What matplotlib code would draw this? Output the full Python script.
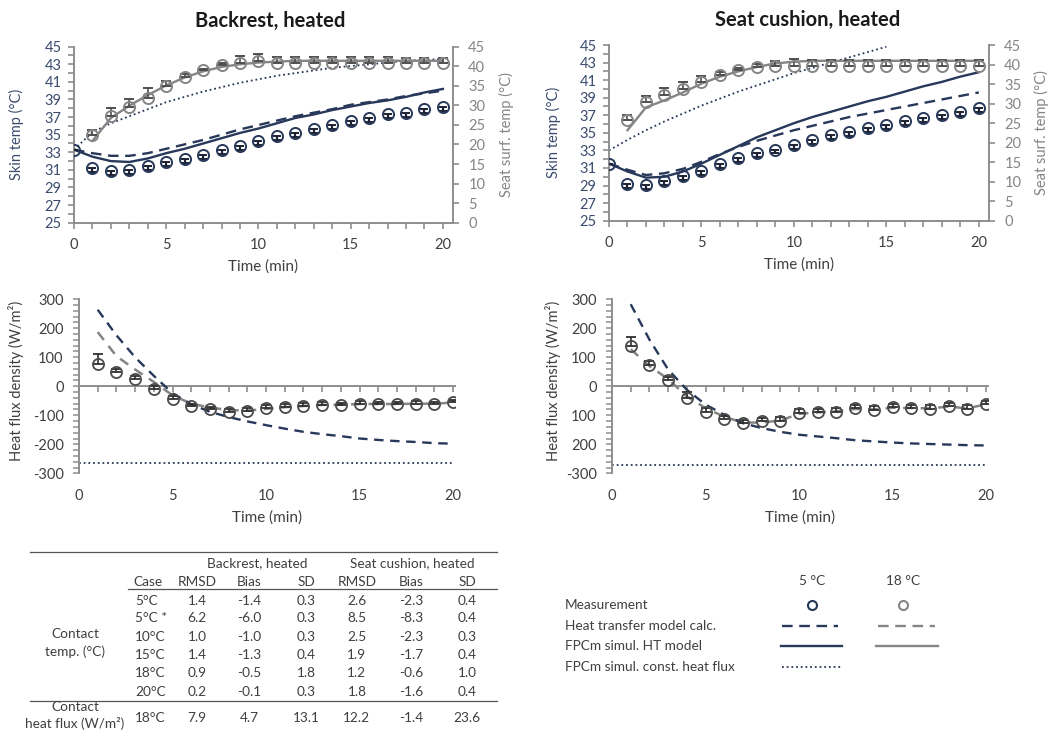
import numpy as np
import matplotlib
matplotlib.use("Agg")
import matplotlib.pyplot as plt
from matplotlib.ticker import MultipleLocator

plt.rcParams['font.family'] = ['Lato', 'DejaVu Sans']

W, H = 1051, 733
NAVY = '#27385a'
NAVY_TXT = '#3b4c6e'
GRAY = '#858585'
DARK = '#4a4a4a'
AXC = '#8e8e8e'
TXT = '#3f3f3f'

minutes = np.arange(21)

# backrest, contact temperatures (°C)
br_meas_5 = [33.3, 31.2, 30.9, 31.0, 31.4, 31.9, 32.2, 32.7, 33.3, 33.75, 34.3,
             34.8, 35.2, 35.6, 36.1, 36.5, 36.9, 37.3, 37.5, 37.9, 38.1]
br_err_5 = [0.0] + [0.45] * 20
br_meas_18 = [35.0, 37.1, 38.1, 39.2, 40.5, 41.6, 42.3, 42.9, 43.2, 43.4,
              43.2, 43.2, 43.2, 43.2, 43.2, 43.2, 43.2, 43.2, 43.2, 43.2]
br_err_18 = [0.5, 0.9, 0.9, 1.1, 0.6, 0.3, 0.2, 0.3, 0.7, 0.8,
             0.6, 0.6, 0.6, 0.6, 0.6, 0.6, 0.6, 0.5, 0.5, 0.5]
br_ht_5 = [33.3, 32.9, 32.6, 32.6, 32.9, 33.4, 33.9, 34.4, 35.0, 35.6, 36.1,
           36.6, 37.1, 37.5, 37.9, 38.4, 38.7, 39.0, 39.4, 39.7, 40.0]
br_fpc_5 = [33.3, 32.5, 32.0, 31.9, 32.3, 32.9, 33.4, 34.0, 34.6, 35.2, 35.7,
            36.3, 36.9, 37.3, 37.8, 38.2, 38.6, 38.9, 39.3, 39.8, 40.2]
br_fpc_18 = [34.3, 36.9, 38.3, 39.5, 40.6, 41.5, 42.2, 42.7, 43.0, 43.2,
             43.3, 43.4, 43.4, 43.4, 43.4, 43.4, 43.4, 43.4, 43.4, 43.4]
br_const = [33.3, 35.3, 36.3, 37.1, 37.9, 38.7, 39.3, 39.9, 40.4, 40.9, 41.3,
            41.7, 42.0, 42.3, 42.6, 42.8, 43.0, 43.2, 43.4, 43.5, 43.6]

# seat cushion, contact temperatures (°C)
sc_meas_5 = [31.5, 29.2, 29.1, 29.5, 30.1, 30.7, 31.4, 32.1, 32.7, 33.1, 33.6,
             34.2, 34.75, 35.1, 35.6, 35.9, 36.4, 36.7, 37.0, 37.4, 37.8]
sc_err_5 = [0.0] + [0.45] * 20
sc_meas_18 = [36.5, 38.5, 39.3, 39.95, 40.8, 41.6, 42.15, 42.5, 42.6, 42.65,
              42.65, 42.65, 42.65, 42.65, 42.65, 42.65, 42.65, 42.65, 42.65, 42.65]
sc_err_18 = [0.5, 0.7, 0.8, 0.85, 0.7, 0.3, 0.2, 0.3, 0.6, 0.75,
             0.65, 0.65, 0.65, 0.65, 0.65, 0.65, 0.65, 0.65, 0.65, 0.65]
sc_ht_5 = [31.5, 30.8, 30.2, 30.4, 30.9, 31.7, 32.6, 33.4, 34.1, 34.7, 35.3,
           35.8, 36.3, 36.8, 37.2, 37.6, 38.0, 38.4, 38.8, 39.2, 39.6]
sc_fpc_5 = [31.5, 30.6, 29.9, 30.0, 30.6, 31.5, 32.5, 33.5, 34.5, 35.3, 36.1,
            36.8, 37.4, 38.0, 38.6, 39.1, 39.7, 40.3, 40.8, 41.4, 41.9]
sc_fpc_18 = [35.3, 37.9, 38.7, 39.6, 40.6, 41.4, 42.0, 42.5, 42.9, 43.1,
             43.2, 43.2, 43.2, 43.2, 43.2, 43.2, 43.2, 43.2, 43.2, 43.2]
sc_const = [33.0, 34.2, 35.3, 36.3, 37.2, 38.1, 38.9, 39.7, 40.4, 41.1, 41.8,
            42.4, 43.0, 43.6, 44.2, 44.8]

skin_ticks = list(range(25, 46, 2))

# contact heat flux density (W/m2)
br_flux_meas = [76, 49, 24, -10, -43, -69, -80, -88, -85, -75,
                -71, -68, -63, -65, -60, -62, -62, -60, -62, -54]
br_flux_err = [37, 10, 10, 10, 8, 8, 8, 8, 10, 10, 10, 10, 10, 8, 8, 8, 8, 8, 8, 8]
br_flux_ht_5 = [264, 176, 100, 36, -24, -62, -88, -106, -121, -134,
                -146, -157, -165, -172, -180, -185, -189, -192, -196, -198]
br_flux_ht_18 = [187, 104, 58, 15, -31, -60, -73, -82, -84, -78,
                 -72, -68, -64, -64, -61, -61, -61, -60, -60, -56]
br_flux_const = -265

sc_flux_meas = [138, 75, 21, -40, -87, -113, -127, -121, -118, -92,
                -89, -87, -75, -81, -73, -75, -77, -69, -78, -61]
sc_flux_err = [33, 12, 10, 22, 12, 10, 10, 12, 12, 12, 12, 12, 12, 12, 12, 12, 12, 12, 12, 12]
sc_flux_ht_5 = [283, 161, 58, -12, -63, -98, -127, -144, -157, -167,
                -173, -179, -186, -190, -194, -197, -199, -201, -203, -204]
sc_flux_ht_18 = [128, 70, 25, -35, -75, -105, -125, -125, -118, -95,
                 -90, -86, -78, -80, -74, -75, -76, -70, -76, -62]
sc_flux_const = -270

flux_ticks = [-300, -200, -100, 0, 100, 200, 300]
sc_flux_ticklabels = ['-300', '200', '100', '0', '100', '200', '300']

# error table
cases = ['5°C', '5°C *', '10°C', '15°C', '18°C', '20°C']
br_rmsd = ['1.4', '6.2', '1.0', '1.4', '0.9', '0.2']
br_bias = ['-1.4', '-6.0', '-1.0', '-1.3', '-0.5', '-0.1']
br_sd = ['0.3', '0.3', '0.3', '0.4', '1.8', '0.3']
sc_rmsd = ['2.6', '8.5', '2.5', '1.9', '1.2', '1.8']
sc_bias = ['-2.3', '-8.3', '-2.3', '-1.7', '-0.6', '-1.6']
sc_sd = ['0.4', '0.4', '0.3', '0.4', '1.0', '0.4']
flux_row = ['18°C', '7.9', '4.7', '13.1', '12.2', '-1.4', '23.6']


fig = plt.figure(figsize=(W / 100, H / 100), dpi=100)


def px_axes(left, top, right, bottom):
    return fig.add_axes([left / W, 1 - bottom / H, (right - left) / W, (bottom - top) / H])


def temp_panel(ax, meas5, err5, meas18, err18, ht5, fpc5, fpc18, const):
    t18 = minutes[1:]
    ax.plot(minutes[:len(const)], const, color=NAVY, lw=1.3, ls=(0, (1, 1.6)))
    ax.plot(minutes, ht5, color=NAVY, lw=1.7, dashes=(4.5, 2.8))
    ax.plot(minutes, fpc5, color=NAVY, lw=1.7)
    ax.plot(t18, fpc18, color=GRAY, lw=1.7)
    ax.errorbar(minutes, meas5, yerr=[err5, np.zeros(21)], fmt='o', ms=8,
                mfc='none', mec=NAVY, mew=1.4, ecolor='#1c2233', elinewidth=1.6,
                capsize=3, capthick=1.8, zorder=4)
    ax.errorbar(t18, meas18, yerr=[np.zeros(20), err18], fmt='o', ms=8,
                mfc='none', mec=GRAY, mew=1.4, ecolor='#4f4f4f', elinewidth=1.2,
                capsize=3.5, capthick=1.3, zorder=4)

    ax.set_xlim(0, 20.55)
    ax.set_ylim(25, 45)
    ax.xaxis.set_major_locator(MultipleLocator(5))
    ax.xaxis.set_minor_locator(MultipleLocator(1))
    ax.set_yticks(skin_ticks)
    ax.yaxis.set_minor_locator(MultipleLocator(1))
    ax.tick_params(which='both', direction='out', length=4, width=1.2, color=AXC)
    ax.tick_params(axis='x', pad=7, labelsize=10.5, labelcolor=TXT)
    ax.tick_params(axis='y', pad=5, labelsize=10.5, labelcolor=NAVY_TXT)
    for s in ['top', 'right']:
        ax.spines[s].set_visible(False)
    for s in ['left', 'bottom']:
        ax.spines[s].set_color(AXC)
        ax.spines[s].set_linewidth(1.4)
    ax.set_ylabel('Skin temp (°C)', color=NAVY_TXT, fontsize=10.5)
    ax.yaxis.set_label_coords(-0.132, 0.5)
    ax.set_xlabel('Time (min)', color=TXT, fontsize=11)
    ax.xaxis.set_label_coords(0.5, -0.21)

    tw = ax.twinx()
    tw.set_ylim(0, 45)
    tw.yaxis.set_major_locator(MultipleLocator(5))
    tw.tick_params(direction='out', length=4, width=1.2, color=AXC, pad=7,
                   labelsize=10.5, labelcolor=GRAY)
    for s in ['top', 'left', 'bottom']:
        tw.spines[s].set_visible(False)
    tw.spines['right'].set_color(AXC)
    tw.spines['right'].set_linewidth(1.4)
    tw.set_ylabel('Seat surf. temp (°C)', color=GRAY, fontsize=10.5)
    tw.yaxis.set_label_coords(1.121, 0.5)
    return tw


def flux_panel(ax, meas, err, ht5, ht18, const, ticklabels):
    t = minutes[1:]
    ax.hlines(const, 0, 20, color=NAVY, lw=1.3, ls=(0, (1, 1.6)))
    ax.plot(t, ht18, color=GRAY, lw=1.8, dashes=(4, 3))
    ax.plot(t, ht5, color=NAVY, lw=1.7, dashes=(4, 2.8))
    ax.errorbar(t, meas, yerr=[np.zeros(20), err], fmt='o', ms=8, mfc='none',
                mec=DARK, mew=1.3, ecolor='#2e2e2e', elinewidth=1.2,
                capsize=3.5, capthick=1.3, zorder=4)

    ax.set_xlim(0, 20.1)
    ax.set_ylim(-300, 300)
    ax.set_yticks(flux_ticks)
    ax.set_yticklabels(ticklabels)
    ax.yaxis.set_minor_locator(MultipleLocator(20))
    ax.tick_params(axis='y', which='both', direction='out', length=4, width=1.1,
                   color=AXC, pad=7, labelsize=10.5, labelcolor=TXT)
    ax.set_xticks([0, 5, 10, 15, 20])
    ax.tick_params(axis='x', length=0, pad=11, labelsize=10.5, labelcolor=TXT)
    for s in ['top', 'right', 'bottom']:
        ax.spines[s].set_visible(False)
    ax.spines['left'].set_color(AXC)
    ax.spines['left'].set_linewidth(1.4)
    ax.set_ylabel('Heat flux density (W/m²)', color=TXT, fontsize=10.5)
    ax.set_xlabel('Time (min)', color=TXT, fontsize=11)
    ax.xaxis.set_label_coords(0.5, -0.215)

    # time axis crossing at zero flux
    zero = ax.secondary_xaxis(0.5)
    zero.set_alignment('bottom')
    zero.set_xticks(minutes)
    zero.tick_params(direction='out', length=4, width=1.2, color=AXC,
                     labelbottom=False, labeltop=False)
    zero.spines['bottom'].set_color(AXC)
    zero.spines['bottom'].set_linewidth(1.4)


ax_tl = px_axes(74, 46.7, 453, 222.7)
ax_tr = px_axes(609, 45, 989, 220.7)
ax_ml = px_axes(79, 299.3, 455, 473.3)
ax_mr = px_axes(612, 299.3, 988, 473.3)

temp_panel(ax_tl, br_meas_5, br_err_5, br_meas_18, br_err_18, br_ht_5, br_fpc_5, br_fpc_18, br_const)
tw_tr = temp_panel(ax_tr, sc_meas_5, sc_err_5, sc_meas_18, sc_err_18, sc_ht_5, sc_fpc_5, sc_fpc_18, sc_const)
ax_tr.yaxis.set_label_coords(-0.126, 0.5)
tw_tr.yaxis.set_label_coords(1.118, 0.5)

flux_panel(ax_ml, br_flux_meas, br_flux_err, br_flux_ht_5, br_flux_ht_18, br_flux_const, [str(v) for v in flux_ticks])
flux_panel(ax_mr, sc_flux_meas, sc_flux_err, sc_flux_ht_5, sc_flux_ht_18, sc_flux_const, sc_flux_ticklabels)
ax_ml.yaxis.set_label_coords(-0.146, 0.53)
ax_mr.yaxis.set_label_coords(-0.136, 0.53)

fig.text(270 / W, 1 - 20.7 / H, 'Backrest, heated', ha='center', va='center',
         fontsize=14.5, fontweight='bold', color='#1a1a1a')
fig.text(808 / W, 1 - 20 / H, 'Seat cushion, heated', ha='center', va='center',
         fontsize=14.5, fontweight='bold', color='#1a1a1a')

# overlay in pixel units for the table and the key
ov = fig.add_axes([0, 0, 1, 1])
ov.set_xlim(0, W)
ov.set_ylim(H, 0)
ov.axis('off')

fs = 9.8
kw = dict(fontsize=fs, color=TXT, va='center')
ov.plot([30, 497], [551.7, 551.7], color='#555555', lw=0.9)
ov.plot([128, 497], [589, 589], color='#555555', lw=0.9)
ov.plot([30, 497], [700.7, 700.7], color='#555555', lw=0.9)
ov.text(257, 562.7, 'Backrest, heated', ha='center', **kw)
ov.text(412, 562.7, 'Seat cushion, heated', ha='center', **kw)
col_x = [197, 249, 306, 357, 411, 467]
ov.text(133, 581.7, 'Case', ha='left', **kw)
for x, name in zip(col_x, ['RMSD', 'Bias', 'SD', 'RMSD', 'Bias', 'SD']):
    ov.text(x, 581.7, name, ha='center', **kw)
row_y = [600.7, 618.3, 636.7, 655, 673.3, 692.3]
for i, y in enumerate(row_y):
    ov.text(135, y, cases[i], ha='left', **kw)
    vals = [br_rmsd[i], br_bias[i], br_sd[i], sc_rmsd[i], sc_bias[i], sc_sd[i]]
    for x, v in zip(col_x, vals):
        ov.text(x, y, v, ha='center', **kw)
ov.text(135, 717.5, flux_row[0], ha='left', **kw)
for x, v in zip(col_x, flux_row[1:]):
    ov.text(x, 717.5, v, ha='center', **kw)
ov.text(75, 634, 'Contact', ha='center', **kw)
ov.text(75, 651.7, 'temp. (°C)', ha='center', **kw)
ov.text(75, 707, 'Contact', ha='center', **kw)
ov.text(75, 723.5, 'heat flux (W/m²)', ha='center', **kw)

# key
ov.text(811.7, 580.7, '5 °C', ha='center', **kw)
ov.text(903.3, 580.7, '18 °C', ha='center', **kw)
key_y = [605, 626, 646, 667.3]
key_text = ['Measurement', 'Heat transfer model calc.', 'FPCm simul. HT model',
            'FPCm simul. const. heat flux']
for y, s in zip(key_y, key_text):
    ov.text(565, y, s, ha='left', **kw)
ov.plot([811.7], [key_y[0]], 'o', ms=6.5, mfc='none', mec=NAVY, mew=1.5)
ov.plot([903.3], [key_y[0]], 'o', ms=6.5, mfc='none', mec=GRAY, mew=1.5)
ov.plot([782, 838], [key_y[1]] * 2, color=NAVY, lw=1.7, dashes=(4.5, 2.8))
ov.plot([878, 935], [key_y[1]] * 2, color=GRAY, lw=1.7, dashes=(4.5, 2.8))
ov.plot([781, 842], [key_y[2]] * 2, color=NAVY, lw=1.7)
ov.plot([876, 938], [key_y[2]] * 2, color=GRAY, lw=1.7)
ov.plot([782, 842], [key_y[3]] * 2, color=NAVY, lw=1.3, ls=(0, (1, 1.6)))

fig.savefig('out.png', dpi=100)
